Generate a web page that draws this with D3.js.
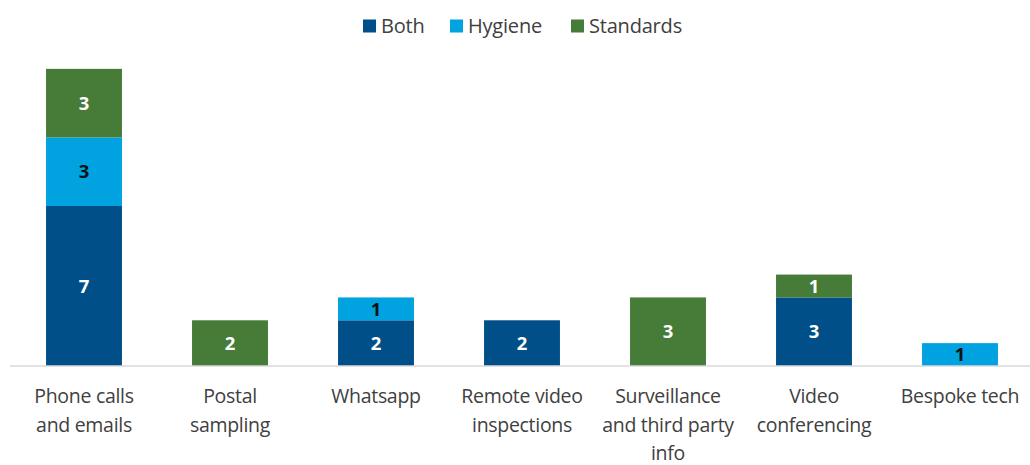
<!DOCTYPE html>
<html>
<head>
<meta charset="utf-8">
<script src="https://cdn.jsdelivr.net/npm/d3@7"></script>
<style>
  html, body { margin: 0; padding: 0; background: #fff; }
  svg { display: block; font-family: "Open Sans", "Noto Sans", sans-serif; }
</style>
</head>
<body>
<svg id="chart" width="1030" height="465"></svg>
<script>
// Remote assessment methods, counted by area of regulation
const categories = [
  ["Phone calls", "and emails"],
  ["Postal", "sampling"],
  ["Whatsapp"],
  ["Remote video", "inspections"],
  ["Surveillance", "and third party", "info"],
  ["Video", "conferencing"],
  ["Bespoke tech"]
];
const seriesNames = ["Both", "Hygiene", "Standards"];
const both      = [7, 0, 2, 2, 0, 3, 0];
const hygiene   = [3, 0, 1, 0, 0, 0, 1];
const standards = [3, 2, 0, 0, 3, 1, 0];
const yMax = 14;

const colors = { Both: "#014f88", Hygiene: "#00a2e0", Standards: "#467b38" };
const labelColors = { Both: "#ffffff", Hygiene: "#111111", Standards: "#ffffff" };

const svg = d3.select("#chart");
const keys = categories.map(c => c.join(" "));
const rows = keys.map((k, i) => ({ key: k, Both: both[i], Hygiene: hygiene[i], Standards: standards[i] }));

const x = d3.scaleBand().domain(keys).range([11, 1033]).paddingInner(0.48).paddingOuter(0.24);
const y = d3.scaleLinear().domain([0, yMax]).range([366, 46]);

const stacked = d3.stack().keys(seriesNames)(rows);

// Stacked bar segments
const layers = svg.append("g").selectAll("g")
  .data(stacked).join("g")
  .attr("fill", d => colors[d.key]);

layers.selectAll("rect")
  .data(d => d.map(v => ({ key: d.key, v })).filter(s => s.v[1] - s.v[0] > 0))
  .join("rect")
  .attr("x", d => x(d.v.data.key))
  .attr("width", x.bandwidth())
  .attr("y", d => y(d.v[1]))
  .attr("height", d => y(d.v[0]) - y(d.v[1]));

// Value labels inside segments
layers.selectAll("text")
  .data(d => d.map(v => ({ key: d.key, v })).filter(s => s.v[1] - s.v[0] > 0))
  .join("text")
  .attr("x", d => x(d.v.data.key) + x.bandwidth() / 2)
  .attr("y", d => (y(d.v[0]) + y(d.v[1])) / 2)
  .attr("dy", "0.36em")
  .attr("text-anchor", "middle")
  .attr("font-size", 18.5)
  .attr("font-weight", "bold")
  .attr("fill", d => labelColors[d.key])
  .text(d => d.v[1] - d.v[0]);

// Category axis
const axis = svg.append("g").attr("transform", `translate(0,${y(0)})`);
axis.append("line")
  .attr("x1", 10).attr("x2", 1030)
  .attr("stroke", "#d9d9d9").attr("stroke-width", 1.5);

const labels = axis.selectAll("text.cat")
  .data(categories).join("text")
  .attr("class", "cat")
  .attr("text-anchor", "middle")
  .attr("font-size", 19.5)
  .attr("letter-spacing", -0.3)
  .attr("fill", "#404040")
  .attr("x", (d, i) => x(keys[i]) + x.bandwidth() / 2);
labels.selectAll("tspan")
  .data(d => d).join("tspan")
  .attr("x", function () { return d3.select(this.parentNode).attr("x"); })
  .attr("y", (d, i) => 37 + i * 28.5)
  .text(d => d);

// Legend
const legendX = [363, 450, 571];
const legend = svg.append("g").selectAll("g")
  .data(seriesNames).join("g")
  .attr("transform", (d, i) => `translate(${legendX[i]},26)`);
legend.append("rect")
  .attr("x", 0).attr("y", -6.5).attr("width", 13).attr("height", 13)
  .attr("fill", d => colors[d]);
legend.append("text")
  .attr("x", 18).attr("dy", "0.36em")
  .attr("font-size", 20)
  .attr("letter-spacing", -0.2)
  .attr("fill", "#404040")
  .text(d => d);
</script>
</body>
</html>
